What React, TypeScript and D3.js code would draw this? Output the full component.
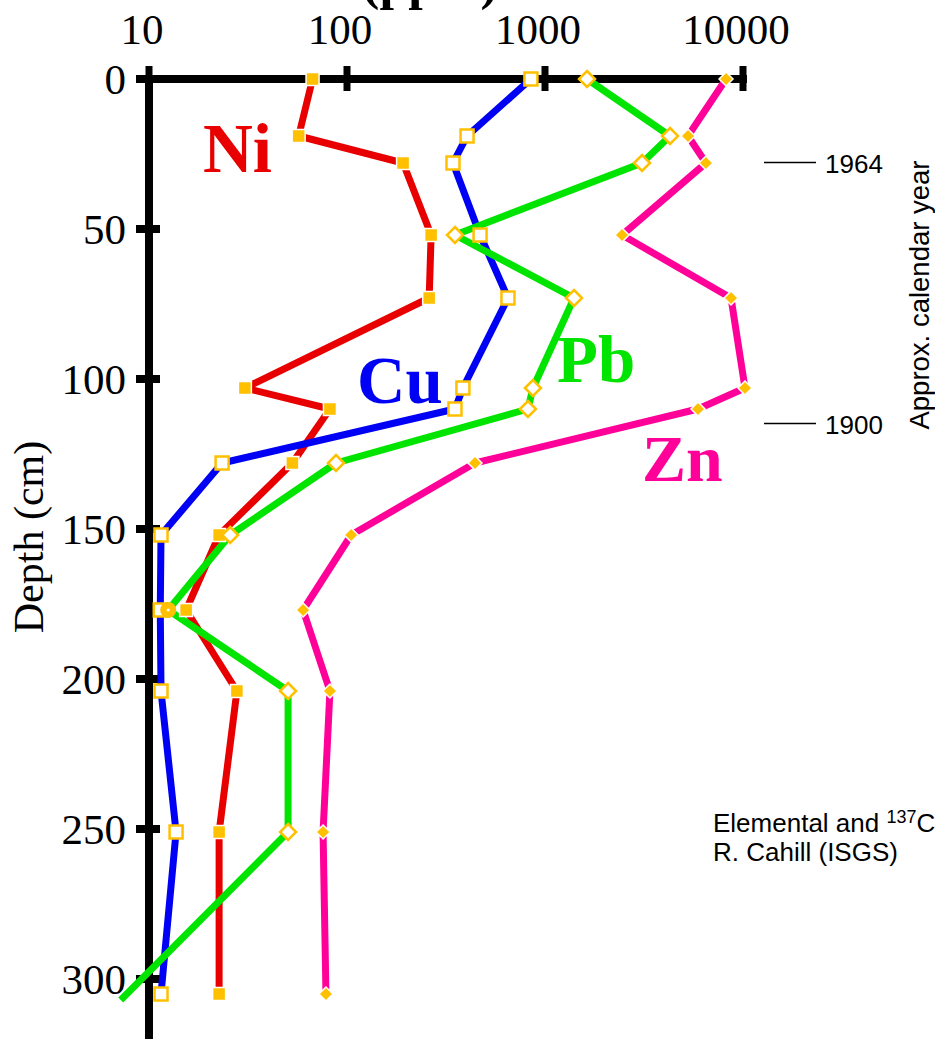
import React from "react";
import * as d3 from "d3";

// ---- data (ppm vs depth cm) ----
const depths = [0, 19, 28, 52, 73, 103, 110, 128, 152, 177, 204, 251, 305];
const pbDepths = [0, 19, 28, 52, 73, 103, 110, 128, 152, 177, 204, 251, 307];
const niValues = [67, 57, 192, 266, 260, 30.5, 82, 53, 22.6, 15.4, 27.8, 22.6, 22.6];
const cuValues = [849, 404, 343, 470, 650, 385, 351, 23.4, 11.5, 11.4, 11.5, 13.7, 11.5];
const pbValues = [1630, 4280, 3090, 351, 1401, 869, 820, 88, 25.7, 12.5, 50.4, 50.4, 7.2];
const znValues = [8210, 5275, 6500, 2449, 8700, 10235, 5925, 443, 105, 60, 82, 75.7, 78.3];
const pbMarkers = ["diamond", "diamond", "diamond", "diamond", "diamond", "diamond", "diamond", "diamond", "diamond", "circle", "diamond", "diamond", "none"];

const xTicks = [10, 100, 1000, 10000];
const xTickLabels = ["10", "100", "1000", "10000"];
const yTicks = [0, 50, 100, 150, 200, 250, 300];

const yearMarks = [
  { year: "1964", depth: 28 },
  { year: "1900", depth: 115 },
];

const W = 935;
const H = 1039;
const GOLD = "#ffc000";
const SERIF = "'Liberation Serif', 'Times New Roman', Times, serif";
const SANS = "'Liberation Sans', Arial, Helvetica, sans-serif";

export default function App() {
  const x = d3.scaleLog().domain([10, 10000]).range([149, 743]);
  const y = d3.scaleLinear().domain([0, 300]).range([79, 979]);
  const line = d3.line<[number, number]>().x((d) => x(d[0])).y((d) => y(d[1]));

  const series = [
    { name: "Ni", color: "#e80000", values: niValues, depths },
    { name: "Cu", color: "#0000f5", values: cuValues, depths },
    { name: "Pb", color: "#00e400", values: pbValues, depths: pbDepths },
    { name: "Zn", color: "#ff0099", values: znValues, depths },
  ];

  const pts = (vals: number[], ds: number[]) => vals.map((v, i) => [v, ds[i]] as [number, number]);

  const x0 = x(10);
  const y0 = y(0);

  return (
    <svg
      width={W}
      height={H}
      viewBox={`0 0 ${W} ${H}`}
      style={{ position: "absolute", left: 0, top: 0, display: "block", background: "#fff", overflow: "hidden" }}
    >
      <rect x={0} y={0} width={W} height={H} fill="#fff" />
      {/* partial title */}
      <text x={430} y={-1} textAnchor="middle" fontFamily={SERIF} fontWeight="bold" fontSize={52} fill="#000">
        (ppm)
      </text>

      {/* top tick labels */}
      {xTicks.map((t, i) => (
        <text key={t} x={x(t)} dx={-7} y={44} textAnchor="middle" fontFamily={SERIF} fontSize={43} fill="#000">
          {xTickLabels[i]}
        </text>
      ))}
      {/* y tick labels */}
      {yTicks.map((t) => (
        <text key={t} x={126} y={y(t) + 15} textAnchor="end" fontFamily={SERIF} fontSize={43} fill="#000">
          {t}
        </text>
      ))}
      <text
        transform={`translate(43, 537) rotate(-90)`}
        textAnchor="middle"
        fontFamily={SERIF}
        fontSize={42}
        fill="#000"
      >
        Depth (cm)
      </text>

      {/* axes */}
      <line x1={x0 - 13} x2={x(10000) + 4} y1={y0} y2={y0} stroke="#000" strokeWidth={8} />
      <line x1={x0} x2={x0} y1={y0 - 4} y2={H} stroke="#000" strokeWidth={8} />
      {xTicks.map((t) => (
        <line key={t} x1={x(t)} x2={x(t)} y1={y0 - 13} y2={y0 + 12} stroke="#000" strokeWidth={7} />
      ))}
      {yTicks.slice(1).map((t) => (
        <line key={t} x1={x0 - 13} x2={x0 + 11} y1={y(t)} y2={y(t)} stroke="#000" strokeWidth={8} />
      ))}

      {/* lines */}
      {series.map((s) => (
        <path
          key={s.name}
          d={line(pts(s.values, s.depths)) || ""}
          fill="none"
          stroke={s.color}
          strokeWidth={7}
          strokeLinejoin="round"
        />
      ))}

      {/* markers: Ni filled squares */}
      {niValues.map((v, i) => (
        <rect key={"ni" + i} x={x(v) - 6.5} y={y(depths[i]) - 6.5} width={13} height={13} fill={GOLD} stroke="#fff" strokeWidth={1.5} />
      ))}
      {/* Cu open squares */}
      {cuValues.map((v, i) => (
        <rect key={"cu" + i} x={x(v) - 6.5} y={y(depths[i]) - 6.5} width={13} height={13} fill="#fff" stroke={GOLD} strokeWidth={2.5} />
      ))}
      {/* Pb open diamonds */}
      {pbValues.map((v, i) => {
        const cx = x(v);
        const cy = y(pbDepths[i]);
        if (pbMarkers[i] === "none") return null;
        if (pbMarkers[i] === "circle")
          return (
            <g key={"pb" + i}>
              <circle cx={cx} cy={cy} r={8} fill={GOLD} />
              <circle cx={cx} cy={cy} r={1.6} fill="#fff" />
            </g>
          );
        const r = 8;
        return (
          <polygon
            key={"pb" + i}
            points={`${cx},${cy - r} ${cx + r},${cy} ${cx},${cy + r} ${cx - r},${cy}`}
            fill="#fff"
            stroke={GOLD}
            strokeWidth={2.5}
          />
        );
      })}
      {/* Zn filled diamonds */}
      {znValues.map((v, i) => {
        const cx = x(v);
        const cy = y(depths[i]);
        const r = 7;
        return (
          <polygon
            key={"zn" + i}
            points={`${cx},${cy - r} ${cx + r},${cy} ${cx},${cy + r} ${cx - r},${cy}`}
            fill={GOLD}
            stroke="#fff"
            strokeWidth={1.5}
          />
        );
      })}

      {/* series labels */}
      <text x={203} y={172} fontFamily={SERIF} fontWeight="bold" fontSize={69} fill="#e80000">Ni</text>
      <text x={357} y={403} fontFamily={SERIF} fontWeight="bold" fontSize={67} fill="#0000f5">Cu</text>
      <text x={557} y={382} fontFamily={SERIF} fontWeight="bold" fontSize={67} fill="#00e400">Pb</text>
      <text x={642} y={481} fontFamily={SERIF} fontWeight="bold" fontSize={66} fill="#ff0099">Zn</text>

      {/* year annotations */}
      {yearMarks.map((m) => (
        <g key={m.year}>
          <line x1={764} x2={816} y1={y(m.depth) - 0.5} y2={y(m.depth) - 0.5} stroke="#000" strokeWidth={1.3} />
          <text x={825} y={y(m.depth) + 10} fontFamily={SANS} fontSize={26} fill="#000">{m.year}</text>
        </g>
      ))}
      <text transform={`translate(929, 295) rotate(-90)`} textAnchor="middle" fontFamily={SANS} fontSize={27.5} fill="#000">
        Approx. calendar year
      </text>

      {/* credit */}
      <text x={713} y={832} fontFamily={SANS} fontSize={26} fill="#000">
        Elemental and <tspan dy={-9} fontSize={18}>137</tspan><tspan dy={9}>Cs data from</tspan>
      </text>
      <text x={713} y={861} fontFamily={SANS} fontSize={26} fill="#000">R. Cahill (ISGS)</text>
    </svg>
  );
}
